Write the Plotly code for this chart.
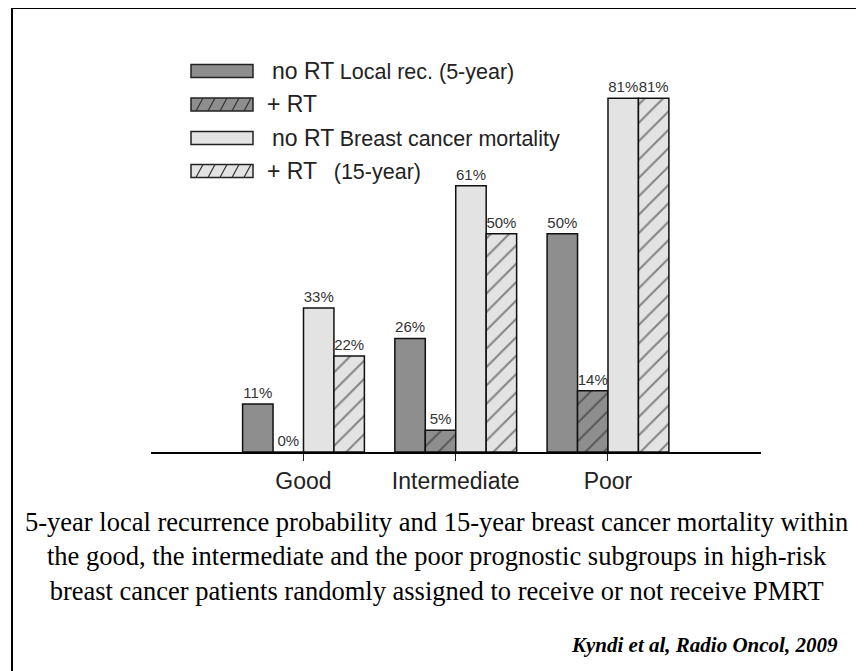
import plotly.graph_objects as go

categories = ["Good", "Intermediate", "Poor"]
local_no_rt = [11, 26, 50]
local_rt = [0, 5, 14]
mort_no_rt = [33, 61, 81]
mort_rt = [22, 50, 81]

series_names = ["no RT Local rec. (5-year)", "+ RT", "no RT Breast cancer mortality", "+ RT (15-year)"]

DARK = "#8e8e8e"
LIGHT = "#e3e3e3"

OFF = 8  # page offset of the plot div
W, H = 864 - OFF, 671 - OFF
PL, PR, PT, PB = 151, 761, 59, 452  # in window pixels


def px(x):
    return (x - PL) / (PR - PL)


def py(y):
    return (PB - y) / (PB - PT)


fig = go.Figure()
series = [
    (local_no_rt, DARK, ""),
    (local_rt, DARK, "/"),
    (mort_no_rt, LIGHT, ""),
    (mort_rt, LIGHT, "/"),
]
for (vals, col, pat), name in zip(series, series_names):
    fig.add_trace(go.Bar(
        x=categories, y=vals, name=name,
        marker=dict(color=col, line=dict(color="#111", width=1.5),
                    pattern=dict(shape=pat, fgcolor="#222", bgcolor=col, size=13, solidity=0.15)),
        texttemplate="%{y}%", textposition="outside", constraintext="none",
        textfont=dict(family="Liberation Sans, Arial", size=15, color="#333"),
        cliponaxis=False, showlegend=False, hoverinfo="skip",
    ))

shapes = []
annotations = []

# frame
shapes.append(dict(type="path", xref="paper", yref="paper",
                   path=f"M {px(12)} {py(690)} L {px(12)} {py(8)} L {px(890)} {py(8)}",
                   line=dict(color="black", width=2)))

# custom legend
rows = [71, 104.5, 138, 171]
leg_cols = [DARK, DARK, LIGHT, LIGHT]
leg_hatch = [False, True, False, True]
sx0, sx1 = 191, 253
for yc, col, hatch in zip(rows, leg_cols, leg_hatch):
    y0, y1 = yc - 6.5, yc + 6.5
    shapes.append(dict(type="rect", xref="paper", yref="paper",
                       x0=px(sx0), x1=px(sx1), y0=py(y1), y1=py(y0),
                       fillcolor=col, line=dict(color="#222", width=1.5)))
    if hatch:
        segs = []
        run = 7
        x = sx0 - run
        while x < sx1:
            xb, yb = x, y1
            xt, yt = x + run, y0
            if xb < sx0:
                t = (sx0 - xb) / run
                xb, yb = sx0, y1 - t * (y1 - y0)
            if xt > sx1:
                t = (xt - sx1) / run
                xt, yt = sx1, y0 + t * (y1 - y0)
            if xt > xb:
                segs.append(f"M {px(xb)} {py(yb)} L {px(xt)} {py(yt)}")
            x += 12
        shapes.append(dict(type="path", xref="paper", yref="paper", path=" ".join(segs),
                           line=dict(color="#333", width=1.2)))

leg_font = dict(family="Liberation Sans, Arial", color="#222")
leg_texts = [
    (270, 71, "<span style='font-size:23px'>no RT</span> <span style='font-size:21.5px'>Local rec. (5-year)</span>"),
    (265, 104.5, "<span style='font-size:23px'>+ RT</span>"),
    (270, 138, "<span style='font-size:23px'>no RT</span> <span style='font-size:21.5px'>Breast cancer mortality</span>"),
    (265, 171, "<span style='font-size:23px'>+ RT</span>   <span style='font-size:21.5px'>(15-year)</span>"),
]
for x, y, t in leg_texts:
    annotations.append(dict(x=px(x), y=py(y), xref="paper", yref="paper", text=t,
                            showarrow=False, xanchor="left", yanchor="middle",
                            font=dict(size=20, **leg_font)))

caption = ("5-year local recurrence probability and 15-year breast cancer mortality within<br>"
           "the good, the intermediate and the poor prognostic subgroups in high-risk<br>"
           "breast cancer patients randomly assigned to receive or not receive PMRT")
annotations.append(dict(x=px(436), y=py(556), xref="paper", yref="paper", text=caption,
                        showarrow=False, xanchor="center", yanchor="middle", align="center",
                        font=dict(family="Liberation Serif, Times New Roman", size=26.5, color="black")))
annotations.append(dict(x=px(840), y=py(645), xref="paper", yref="paper",
                        text="<b><i>Kyndi et al, Radio Oncol, 2009</i></b>",
                        showarrow=False, xanchor="right", yanchor="middle",
                        font=dict(family="Liberation Serif, Times New Roman", size=21, color="black")))

fig.update_layout(
    width=W, height=H,
    margin=dict(l=PL - OFF, r=W - (PR - OFF), t=PT - OFF, b=H - (PB - OFF), pad=0),
    paper_bgcolor="white", plot_bgcolor="white",
    barmode="group", bargap=0.2, bargroupgap=0,
    showlegend=False,
    shapes=shapes, annotations=annotations,
    xaxis=dict(type="category", range=[-1.0016, 3.005], showline=True, linecolor="black", linewidth=2,
               ticks="outside", ticklen=7, tickwidth=1, tickcolor="#222", showgrid=False, zeroline=False,
               tickfont=dict(family="Liberation Sans, Arial", size=23, color="#222")),
    yaxis=dict(range=[0, 90], visible=False, showgrid=False, zeroline=False),
)

fig.write_html("out.html")
